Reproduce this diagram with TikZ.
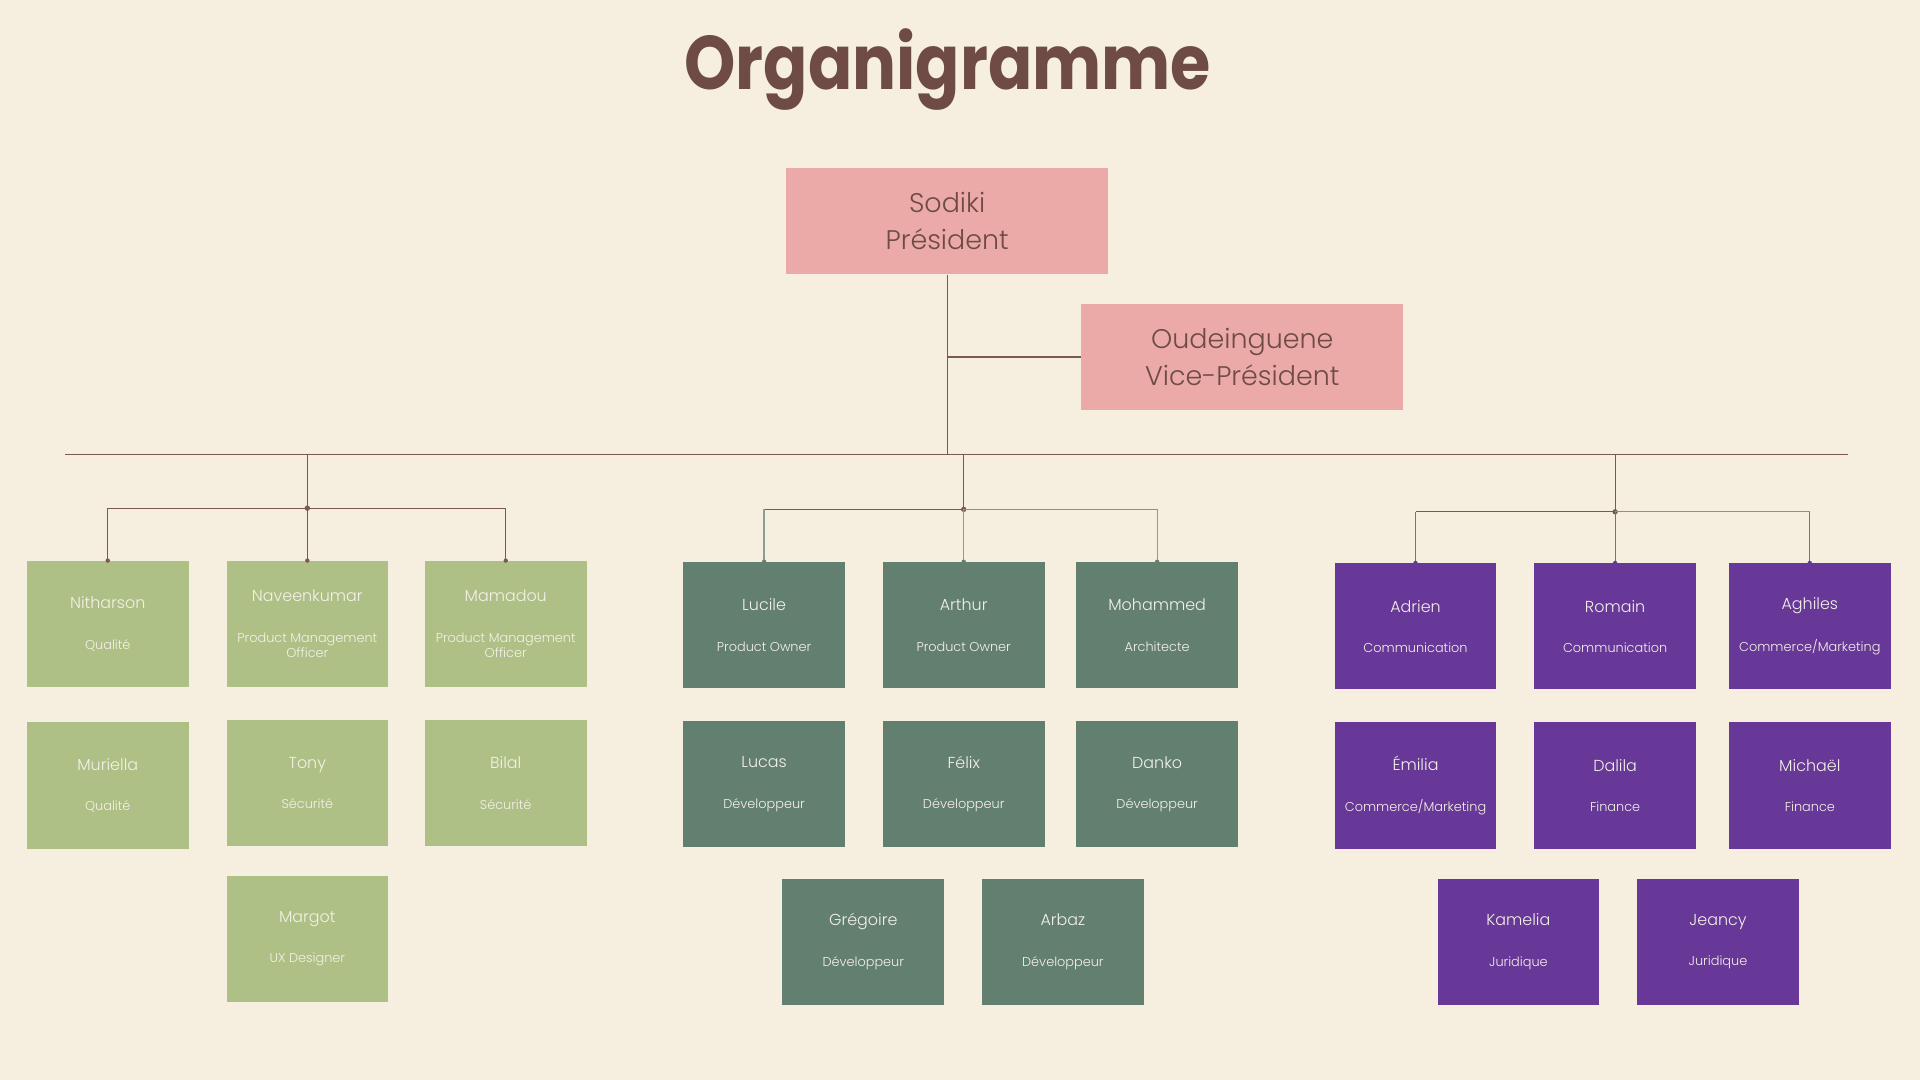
\documentclass[tikz,border=0pt]{standalone}
\usepackage{fontspec}
\IfFontExistsTF{Poppins Light}
  {\setmainfont{Poppins Light}[BoldFont=Poppins Bold]}
  {\setmainfont{Poppins}}
\usetikzlibrary{positioning}
\definecolor{fond}{HTML}{F6EFE0}
\definecolor{brun}{HTML}{6E4B45}
\definecolor{trait}{HTML}{7B5953}
\definecolor{traitclair}{HTML}{A08780}
\definecolor{rose}{HTML}{EBAAA8}
\definecolor{vert}{HTML}{AEC085}
\definecolor{sauge}{HTML}{637F70}
\definecolor{saugeclair}{HTML}{86A193}
\definecolor{mauve}{HTML}{673898}
\definecolor{mauveclair}{HTML}{8A5BB8}
\definecolor{creme}{HTML}{F4F1E8}

\tikzset{
  poste/.style={minimum width=132pt, minimum height=103pt, inner sep=0pt,
    align=center, text=creme, font=\fontsize{13}{13}\selectfont},
  chef/.style={fill=rose, minimum width=263pt, minimum height=87pt, inner sep=0pt,
    align=center, text=brun, font=\fontsize{22}{30}\selectfont},
  lien/.style={draw=trait, line width=1pt},
}
\newcommand{\role}{\fontsize{10.5}{13}\selectfont}
\newcommand{\qui}[2]{#1\\[20pt]\role #2}
\newcommand{\quideux}[3]{#1\\[20pt]\role #2\\[-0.5pt]\role #3}

\begin{document}
\begin{tikzpicture}[x=1pt,y=-1pt]
\fill[fond] (0,0) rectangle (1568,882);
\useasboundingbox (0,0) rectangle (1568,882);

\node[text=brun, font=\fontsize{62}{62}\selectfont\bfseries] (titre) at (774,57)
  {\scalebox{0.86}[1]{Organigramme}};

\node[chef] (sodiki) at (773.5,180.5) {Sodiki\\Président};
\node[chef] (oudei) at (1014.5,291.5) {Oudeinguene\\Vice-Président};

% qualite, securite
\node[poste, fill=vert] (nith) at (88,509.5) {\qui{Nitharson}{Qualité}};
\node[poste, fill=vert] (nave) at (251,509.5) {\quideux{Naveenkumar}{Product Management}{Officer}};
\node[poste, fill=vert] (mama) at (413,509.5) {\quideux{Mamadou}{Product Management}{Officer}};
\node[poste, fill=vert] (muri) at (88,641.5) {\qui{Muriella}{Qualité}};
\node[poste, fill=vert] (tony) at (251,639.5) {\qui{Tony}{Sécurité}};
\node[poste, fill=vert] (bilal) at (413,639.5) {\qui{Bilal}{Sécurité}};
\node[poste, fill=vert] (margot) at (251,766.5) {\qui{Margot}{UX Designer}};

% produit, dev
\node[poste, fill=sauge] (luci) at (624,510.5) {\qui{Lucile}{Product Owner}};
\node[poste, fill=sauge] (arth) at (787,510.5) {\qui{Arthur}{Product Owner}};
\node[poste, fill=sauge] (moha) at (945,510.5) {\qui{Mohammed}{Architecte}};
\node[poste, fill=sauge] (lucas) at (624,640.5) {\qui{Lucas}{Développeur}};
\node[poste, fill=sauge] (felix) at (787,640.5) {\qui{Félix}{Développeur}};
\node[poste, fill=sauge] (danko) at (945,640.5) {\qui{Danko}{Développeur}};
\node[poste, fill=sauge] (greg) at (705,769) {\qui{Grégoire}{Développeur}};
\node[poste, fill=sauge] (arbaz) at (868,769) {\qui{Arbaz}{Développeur}};

% commerce, finance, juridique
\node[poste, fill=mauve] (adri) at (1156,511.5) {\qui{Adrien}{Communication}};
\node[poste, fill=mauve] (roma) at (1319,511.5) {\qui{Romain}{Communication}};
\node[poste, fill=mauve] (aghi) at (1478,511.5) {\qui{Aghiles}{Commerce/Marketing}};
\node[poste, fill=mauve] (emil) at (1156,641.5) {\qui{Émilia}{Commerce/Marketing}};
\node[poste, fill=mauve] (dali) at (1319,641.5) {\qui{Dalila}{Finance}};
\node[poste, fill=mauve] (mich) at (1478,641.5) {\qui{Michaël}{Finance}};
\node[poste, fill=mauve] (kame) at (1240,769) {\qui{Kamelia}{Juridique}};
\node[poste, fill=mauve] (jean) at (1403,769) {\qui{Jeancy}{Juridique}};

% lignes
\coordinate (gauche) at (53,371);
\coordinate (droite) at (1509,371);
\draw[lien] (gauche) -- (droite);
\draw[lien] (sodiki.south) -- (sodiki.south |- gauche);
\draw[lien] (oudei.west) -- (oudei.west -| sodiki.south);

\coordinate (j1) at (251,415);
\coordinate (j2) at (787,416);
\coordinate (j3) at (1319,418);
\foreach \j in {j1,j2,j3} {
  \draw[lien] (\j |- gauche) -- (\j);
  \fill[trait] (\j) circle (2.2pt);
}
\draw[lien] (nith.north) |- (j1) -| (mama.north);
\draw[lien] (j1) -- (nave.north);
\draw[lien] (luci.north |- j2) -- (j2);
\draw[draw=traitclair, line width=1pt] (j2) -- (moha.north |- j2);
\draw[lien] (adri.north |- j3) -- (j3);
\draw[draw=traitclair, line width=1pt] (j3) -- (aghi.north |- j3);
\foreach \n in {luci,arth,moha}
  \draw[draw=saugeclair, line width=1pt] (\n.north) -- (\n.north |- j2);
\foreach \n in {adri,roma,aghi}
  \draw[draw=mauveclair, line width=1pt] (\n.north) -- (\n.north |- j3);
\foreach \n in {nith,nave,mama} \fill[trait] (\n.north) circle (1.8pt);
\foreach \n in {luci,arth,moha} \fill[sauge] (\n.north) circle (1.8pt);
\foreach \n in {adri,roma,aghi} \fill[mauve] (\n.north) circle (1.8pt);
\end{tikzpicture}
\end{document}
